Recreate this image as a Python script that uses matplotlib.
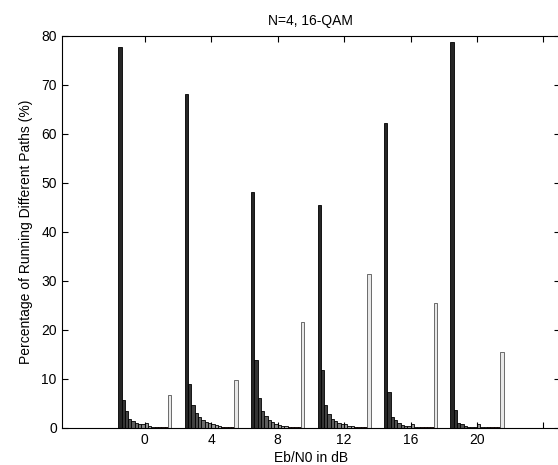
import matplotlib
matplotlib.use('Agg')
import matplotlib.pyplot as plt
import numpy as np

plt.rcParams['font.family'] = ['Liberation Sans', 'DejaVu Sans']
plt.rcParams['font.size'] = 10

ebn0 = [0, 4, 8, 12, 16, 20]
xtick_pos = [0, 4, 8, 12, 16, 20, 24]
xtick_labels = ['0', '4', '8', '12', '16', '20', '']

# percentage of running different paths, 16 series per Eb/N0 group
g0 = [77.6, 5.8, 3.4, 1.9, 1.4, 1.1, 0.9, 0.75, 1.0, 0.4, 0.3, 0.3, 0.3, 0.3, 0.3, 6.7]
g4 = [68.2, 8.9, 4.7, 3.1, 2.2, 1.7, 1.3, 1.0, 0.9, 0.6, 0.5, 0.3, 0.3, 0.3, 0.3, 9.8]
g8 = [48.2, 13.8, 6.2, 3.5, 2.5, 1.6, 1.2, 0.8, 0.7, 0.5, 0.4, 0.3, 0.3, 0.3, 0.3, 21.7]
g12 = [45.5, 11.8, 4.6, 2.9, 1.9, 1.4, 1.0, 0.8, 0.9, 0.5, 0.4, 0.3, 0.3, 0.3, 0.3, 31.5]
g16 = [62.1, 7.3, 2.2, 1.7, 1.0, 0.6, 0.5, 0.4, 0.9, 0.3, 0.3, 0.3, 0.3, 0.3, 0.3, 25.4]
g20 = [78.8, 3.7, 1.0, 0.8, 0.4, 0.3, 0.3, 0.3, 0.9, 0.3, 0.3, 0.3, 0.3, 0.3, 0.3, 15.4]

Y = np.array([g0, g4, g8, g12, g16, g20])
n_groups, n_bars = Y.shape

# bar colours: grey ramp, a few dark red ones, light last one
colors = [str(g) for g in np.linspace(0.15, 0.7, 11)]
colors += ['#8b1a00'] * 4
colors += ['#e8e8e8']

fig = plt.figure(figsize=(5.58, 4.65), dpi=100)
ax = fig.add_axes([0.1106, 0.0796, 0.893, 0.8437])

group_width = 0.8 * 4
bw = group_width / n_bars
x = np.array(ebn0, dtype=float)
for j in range(n_bars):
    offs = -group_width / 2 + bw / 2 + j * bw
    ec = '#555555' if j == n_bars - 1 else 'black'
    ax.bar(x + offs, Y[:, j], width=bw, color=colors[j], edgecolor=ec, linewidth=0.6)

ax.set_xlim(-5, 25)
ax.set_ylim(0, 80)
ax.set_xticks(xtick_pos)
ax.set_xticklabels(xtick_labels)
ax.set_yticks(np.arange(0, 81, 10))
ax.tick_params(direction='in', length=4, top=True, right=True, width=0.8)
for s in ax.spines.values():
    s.set_linewidth(0.8)

ax.set_title('N=4, 16-QAM', fontsize=10, pad=8)
ax.set_xlabel('Eb/N0 in dB', labelpad=3)
ax.set_ylabel('Percentage of Running Different Paths (%)', labelpad=6)

fig.savefig('out.png', dpi=100)
plt.close()
